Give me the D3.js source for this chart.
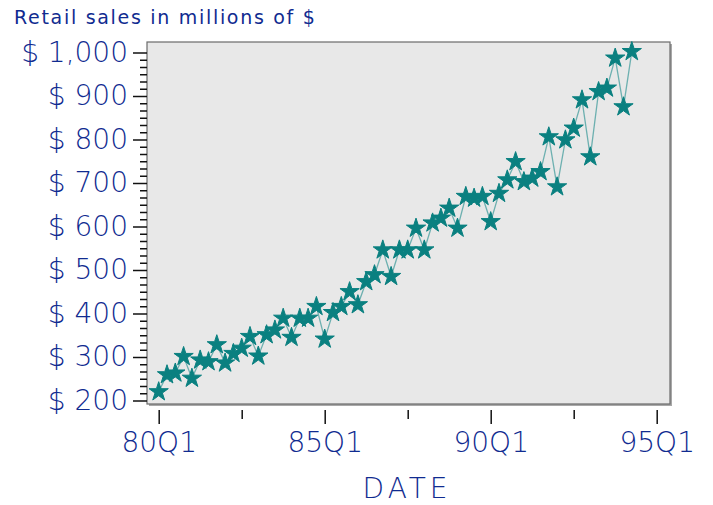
<!DOCTYPE html>
<html>
<head>
<meta charset="utf-8">
<script src="https://cdn.jsdelivr.net/npm/d3@7"></script>
<style>
  body { margin: 0; background: #fff; }
  text { font-family: "DejaVu Sans", sans-serif; fill: #102b90; }
</style>
</head>
<body>
<svg id="chart" width="713" height="505"></svg>
<script>
// quarterly retail sales, 80Q1 .. 94Q2 (millions of $)
const sales = [
  220, 259, 263, 301, 251, 293, 289, 328, 286, 308,
  320, 347, 302, 351, 362, 389, 345, 389, 389, 416,
  341, 402, 416, 450, 420, 473, 489, 546, 485, 546,
  546, 596, 546, 608, 619, 642, 596, 669, 665, 669,
  611, 676, 707, 749, 703, 711, 726, 806, 691, 799,
  826, 891, 760, 910, 918, 987, 875, 1002
];
const yTicks = [200, 300, 400, 500, 600, 700, 800, 900, 1000];
const xTickLabels = ["80Q1", "85Q1", "90Q1", "95Q1"];

const textColor = "#102b90";
const svg = d3.select("#chart");
const frame = {left: 147, right: 670, top: 42, bottom: 404};

// quarter index -> x
const x = d3.scaleLinear().domain([0, 60]).range([158.7, 656.7]);
const y = d3.scaleLinear().domain([200, 1000]).range([400.5, 52.5]);

/* Title */
svg.append("text")
    .attr("x", 14)
    .attr("y", 24)
    .attr("font-size", 19)
    .attr("letter-spacing", 1.7)
    .text("Retail sales in millions of $");

/* Plot frame with shadow */
svg.append("rect")
    .attr("x", frame.left + 2)
    .attr("y", frame.top + 2)
    .attr("width", frame.right - frame.left)
    .attr("height", frame.bottom - frame.top)
    .attr("fill", "#a8a8a8");
svg.append("rect")
    .attr("x", frame.left)
    .attr("y", frame.top)
    .attr("width", frame.right - frame.left)
    .attr("height", frame.bottom - frame.top)
    .attr("fill", "#e8e8e8")
    .attr("stroke", "#6a6a6a")
    .attr("stroke-width", 1.2);

/* Y axis */
let yMinor = [];
for (let i = 0; i < yTicks.length - 1; i++) {
    for (let k = 1; k < 6; k++) yMinor.push(yTicks[i] + k * (yTicks[i + 1] - yTicks[i]) / 6);
}
svg.append("g")
    .attr("transform", `translate(${frame.left},0)`)
    .call(d3.axisLeft(y).tickValues(yMinor).tickSize(7).tickFormat(""))
    .call(g => g.select(".domain").remove())
    .call(g => g.selectAll("line").attr("stroke", "#111").attr("stroke-width", 1.5));

let yAxis = svg.append("g")
    .attr("transform", `translate(${frame.left},0)`)
    .call(d3.axisLeft(y).tickValues(yTicks).tickSize(14).tickPadding(5)
        .tickFormat(d => "$ " + d3.format(",")(d)));
yAxis.select(".domain").remove();
yAxis.selectAll("line").attr("stroke", "#111").attr("stroke-width", 1.5);
yAxis.selectAll("text")
    .attr("font-size", 28)
    .attr("font-family", "DejaVu Sans")
    .attr("font-weight", 300)
    .attr("fill", textColor);

/* X axis */
let xAxisY = 410;
svg.append("g")
    .attr("transform", `translate(0,${xAxisY})`)
    .call(d3.axisBottom(x).tickValues([10, 30, 50]).tickSize(9).tickFormat(""))
    .call(g => g.select(".domain").remove())
    .call(g => g.selectAll("line").attr("stroke", "#111").attr("stroke-width", 1.5));

let xAxis = svg.append("g")
    .attr("transform", `translate(0,${xAxisY})`)
    .call(d3.axisBottom(x).tickValues([0, 20, 40, 60]).tickSize(14).tickPadding(8)
        .tickFormat((d, i) => xTickLabels[i]));
xAxis.select(".domain").remove();
xAxis.selectAll("line").attr("stroke", "#111").attr("stroke-width", 1.5);
xAxis.selectAll("text")
    .attr("font-size", 28)
    .attr("font-family", "DejaVu Sans")
    .attr("font-weight", 300)
    .attr("fill", textColor);

svg.append("text")
    .attr("x", 407)
    .attr("y", 498)
    .attr("text-anchor", "middle")
    .attr("font-size", 28)
    .attr("font-weight", 300)
    .attr("letter-spacing", 4)
    .text("DATE");

/* Series */
let points = sales.map((v, i) => ({i: i, v: v}));
svg.append("path")
    .datum(points)
    .attr("fill", "none")
    .attr("stroke", "#1a8a8a")
    .attr("stroke-opacity", 0.6)
    .attr("stroke-width", 1.3)
    .attr("d", d3.line().x(d => x(d.i)).y(d => y(d.v)));

svg.append("g")
    .selectAll("path")
    .data(points)
    .enter()
    .append("path")
    .attr("transform", d => `translate(${x(d.i)},${y(d.v)})`)
    .attr("d", d3.symbol(d3.symbolStar, 115))
    .attr("fill", "#0a8080")
    .attr("stroke", "#0a8080")
    .attr("stroke-width", 1)
    .attr("stroke-linejoin", "round");
</script>
</body>
</html>
